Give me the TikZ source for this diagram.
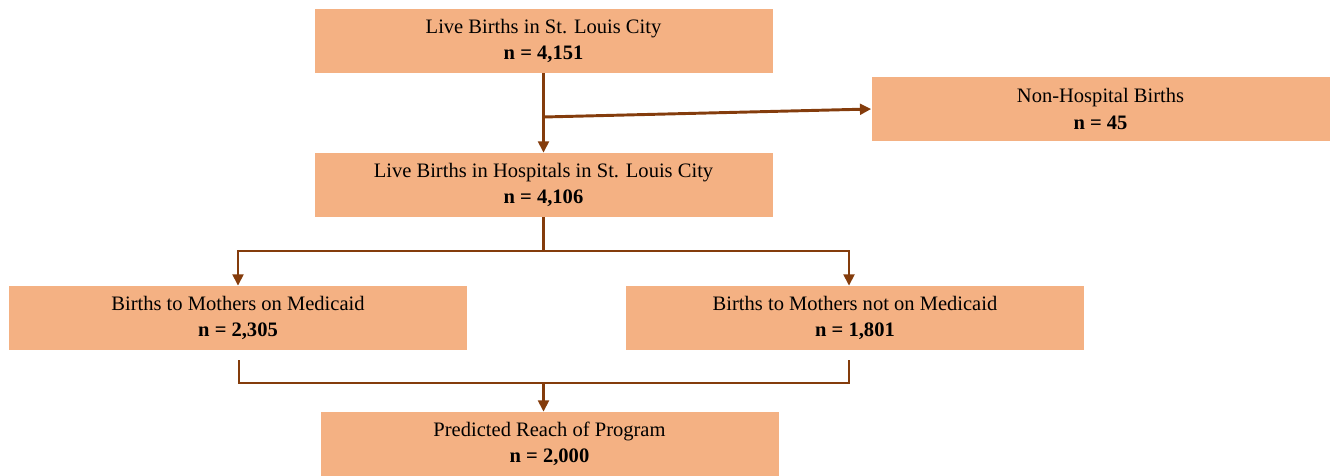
\documentclass[tikz,border=0pt]{standalone}
\usepackage{fontspec}
\setmainfont{Liberation Serif}
\usetikzlibrary{arrows.meta}
\definecolor{boxfill}{HTML}{F4B183}
\definecolor{linkcol}{HTML}{843C0C}
\tikzset{
	box/.style={rectangle, fill=boxfill, minimum width=343.5pt, minimum height=48pt,
		inner sep=0pt, align=center, font=\fontsize{15.4}{20}\selectfont},
	link/.style={draw=linkcol, line width=2.2pt},
	arr/.style={link, -{Triangle[length=8.5pt,width=8pt]}}
}
\begin{document}
\begin{tikzpicture}[x=0.75pt,y=-0.75pt]
	\useasboundingbox (0,0) rectangle (1330,475);
	\node[box] at (543.5,41) (live) {Live Births in St. Louis City\\ \textbf{n = 4,151}};
	\node[box] at (1100.5,109) (nonhosp) {Non-Hospital Births\\ \textbf{n = 45}};
	\node[box] at (543.5,185) (hosp) {Live Births in Hospitals in St. Louis City\\ \textbf{n = 4,106}};
	\node[box] at (238,318) (medicaid) {Births to Mothers on Medicaid\\ \textbf{n = 2,305}};
	\node[box] at (855,318) (notmed) {Births to Mothers not on Medicaid\\ \textbf{n = 1,801}};
	\node[box] at (549.5,444) (reach) {Predicted Reach of Program\\ \textbf{n = 2,000}};
	\coordinate (split) at (543.5,117);
	\coordinate (fork) at (543.5,251);
	\coordinate (leftin) at (239,360);
	\coordinate (rightin) at (849,360);
	\coordinate (join) at (543.5,383);
	\path[arr] (live.south) -- (hosp.north);
	\path[arr] (split) -- (nonhosp.west);
	\path[link] (hosp.south) -- (fork);
	\path[arr] (fork) -| (medicaid.north);
	\path[arr] (fork) -| ([xshift=-4.5pt]notmed.north);
	\path[link] (leftin) |- (join) -| (rightin);
	\path[arr] (join) -- (join |- reach.north);
\end{tikzpicture}
\end{document}
